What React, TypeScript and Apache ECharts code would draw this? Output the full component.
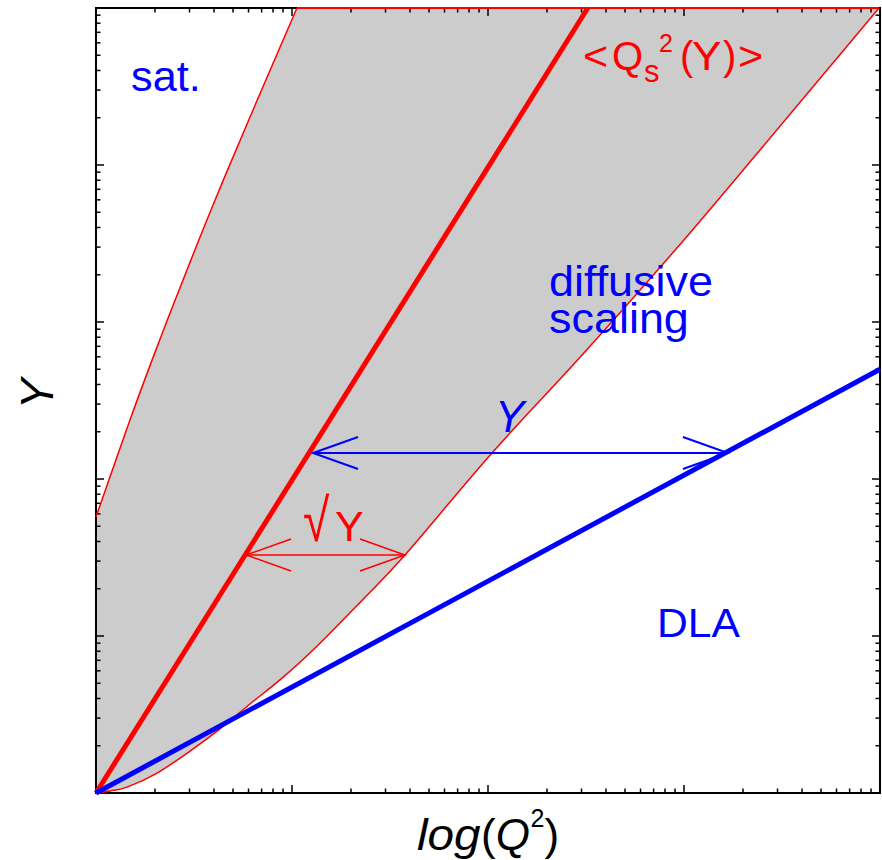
import React, { useEffect, useRef } from "react";
import * as echarts from "echarts";

// Axis extents (both axes logarithmic)
const xMin = 1;
const xMax = 10000;
const yMin = 1;
const yMax = 100000;
const xDecades = [1, 10, 100, 1000, 10000];
const yDecades = [1, 10, 100, 1000, 10000, 100000];
const minorSteps = [2, 3, 4, 5, 6, 7, 8, 9];

// Upper edge of the scaling window (saturation side)
const satEdge: [number, number][] = [
  [1, 57.3],
  [1.509, 248],
  [2.048, 693],
  [2.78, 1854],
  [4.05, 5984],
  [6.107, 20230],
  [10.6, 100000],
];

// Lower edge of the scaling window (diffusive side)
const diffEdge: [number, number][] = [
  [1, 1],
  [1.18, 1.03],
  [1.44, 1.09],
  [2.05, 1.34],
  [3.02, 1.85],
  [4.29, 2.56],
  [6.1, 3.69],
  [8.68, 5.25],
  [12.8, 8.14],
  [22.8, 16.9],
  [37.7, 32.8],
  [104.8, 146.5],
  [302, 616],
  [920, 2960],
  [2443, 12470],
  [5370, 40300],
  [9886, 100000],
];

// Saturation line <Qs^2(Y)> and the DLA line
const qsLine: [number, number][] = [
  [1, 1],
  [323, 100000],
];
const dlaLine: [number, number][] = [
  [1, 1],
  [10000, 500],
];

// Double-headed arrows: [x from, x to, y]
const arrowY: [number, number, number] = [12.8, 1675, 146.5];
const arrowSqrtY: [number, number, number] = [5.83, 37.7, 32.8];

const RED = "#ff0000";
const BLUE = "#0000ff";
const GREY = "#cccccc";
const FONT = "'Liberation Sans', Arial, Helvetica, sans-serif";

type Piece = {
  text: string;
  x: number;
  base: number;
  size: number;
  color: string;
  italic?: boolean;
  sx?: number;
  lh?: number;
  rich?: boolean;
};

// Annotation texts, positioned by their (first) baseline
const pieces: Piece[] = [
  { text: "sat.", x: 131, base: 91, size: 42, color: BLUE, sx: 1.03 },
  { text: "diffusive\nscaling", x: 549, base: 296, size: 42, color: BLUE, sx: 1.07, lh: 37 },
  { text: "DLA", x: 657, base: 637, size: 41, color: BLUE, sx: 1.04 },
  { text: "Y", x: 495, base: 432, size: 44, color: BLUE, italic: true },
  { text: "\u221A", x: 303, base: 541, size: 60, color: RED, sx: 0.8 },
  { text: "Y", x: 335, base: 541, size: 43, color: RED },
  { text: "<", x: 583, base: 70, size: 40, color: RED, sx: 1.08 },
  { text: "Q", x: 612, base: 70, size: 40, color: RED },
  { text: "s", x: 644, base: 82, size: 31, color: RED },
  { text: "2", x: 659, base: 52, size: 25, color: RED },
  { text: "(", x: 680, base: 70, size: 40, color: RED },
  { text: "Y", x: 692, base: 70, size: 40, color: RED, sx: 1.1 },
  { text: ")", x: 723, base: 70, size: 40, color: RED },
  { text: ">", x: 738, base: 70, size: 40, color: RED, sx: 1.08 },
  // x axis title log(Q^2)
  { text: "log", x: 417, base: 850, size: 45, color: "#000", italic: true, sx: 1.06 },
  { text: "{up|(}{it|Q}", x: 481, base: 850, size: 44, color: "#000", rich: true },
  { text: "2", x: 530.5, base: 827, size: 25, color: "#000" },
  { text: ")", x: 544.5, base: 850, size: 44, color: "#000" },
];

// Catmull-Rom smoothing of a pixel polyline into cubic Bezier path commands
function smoothPath(pts: number[][], moveFirst: boolean): string {
  let d = moveFirst ? `M${pts[0][0]},${pts[0][1]}` : `L${pts[0][0]},${pts[0][1]}`;
  for (let i = 0; i < pts.length - 1; i++) {
    const p0 = pts[i - 1] || pts[i];
    const p1 = pts[i];
    const p2 = pts[i + 1];
    const p3 = pts[i + 2] || p2;
    const c1x = p1[0] + (p2[0] - p0[0]) / 6;
    const c1y = p1[1] + (p2[1] - p0[1]) / 6;
    const c2x = p2[0] - (p3[0] - p1[0]) / 6;
    const c2y = p2[1] - (p3[1] - p1[1]) / 6;
    d += `C${c1x},${c1y},${c2x},${c2y},${p2[0]},${p2[1]}`;
  }
  return d;
}

export default function App() {
  const ref = useRef<HTMLDivElement>(null);

  useEffect(() => {
    const chart = echarts.init(ref.current!, null, { renderer: "svg" });

    // Tick list: [xValue, yValue, side(0 = x axis, 1 = y axis), major]
    const ticks: number[][] = [];
    xDecades.forEach((d, i) => {
      ticks.push([d, 1, 0, 1]);
      if (i < xDecades.length - 1) minorSteps.forEach((m) => ticks.push([d * m, 1, 0, 0]));
    });
    yDecades.forEach((d, i) => {
      ticks.push([1, d, 1, 1]);
      if (i < yDecades.length - 1) minorSteps.forEach((m) => ticks.push([1, d * m, 1, 0]));
    });

    const hiddenAxis = {
      axisLine: { show: false },
      axisTick: { show: false },
      axisLabel: { show: false },
      splitLine: { show: false },
    };

    const arrowRender = (color: string, width: number) => (params: any, api: any) => {
      const a = api.coord([api.value(0), api.value(2)]);
      const b = api.coord([api.value(1), api.value(2)]);
      const dx = 45;
      const dy = 16;
      const st = { stroke: color, lineWidth: width, fill: "none" };
      return {
        type: "group",
        children: [
          { type: "line", shape: { x1: a[0], y1: a[1], x2: b[0], y2: b[1] }, style: st },
          { type: "polyline", shape: { points: [[a[0] + dx, a[1] - dy], [a[0], a[1]], [a[0] + dx, a[1] + dy]] }, style: st },
          { type: "polyline", shape: { points: [[b[0] - dx, b[1] - dy], [b[0], b[1]], [b[0] - dx, b[1] + dy]] }, style: st },
        ],
      };
    };

    const texts: any[] = pieces.map((p) => {
      const style: any = {
        text: p.text,
        fill: p.color,
        fontSize: p.size,
        fontFamily: FONT,
        fontStyle: p.italic ? "italic" : "normal",
        align: "left",
        verticalAlign: p.lh ? "top" : "middle",
      };
      if (p.lh) style.lineHeight = p.lh;
      if (p.rich) {
        style.rich = {
          up: { fontSize: p.size, fontFamily: FONT, fontStyle: "normal", fill: p.color },
          it: { fontSize: p.size, fontFamily: FONT, fontStyle: "italic", fill: p.color },
        };
      }
      return {
        type: "text",
        x: p.x,
        // first line's centre sits 0.3465 em above its baseline
        y: p.base - 0.3465 * p.size - (p.lh ? p.lh / 2 : 0),
        scaleX: p.sx || 1,
        z: 100,
        style,
      };
    });
    texts.push({
      type: "text",
      x: 37,
      y: 394,
      rotation: Math.PI / 2,
      z: 100,
      style: {
        text: "Y",
        fill: "#000",
        fontSize: 46,
        fontFamily: FONT,
        fontStyle: "italic",
        align: "center",
        verticalAlign: "middle",
      },
    });

    const toPx = (api: any, arr: [number, number][]) => arr.map((p) => api.coord(p));

    const option: any = {
      animation: false,
      grid: { left: 96, top: 8, width: 784, height: 785, containLabel: false },
      xAxis: { type: "log", logBase: 10, min: xMin, max: xMax, ...hiddenAxis },
      yAxis: { type: "log", logBase: 10, min: yMin, max: yMax, ...hiddenAxis },
      graphic: texts,
      series: [
        {
          // grey scaling window between the two edges
          type: "custom",
          name: "window",
          silent: true,
          z: 1,
          data: [[1, 1]],
          renderItem: (params: any, api: any) => {
            const lower = toPx(api, diffEdge);
            const upper = toPx(api, satEdge).reverse();
            const d = smoothPath(lower, true) + smoothPath(upper, false) + "Z";
            return {
              type: "path",
              shape: { pathData: d },
              style: { fill: GREY, stroke: "none" },
            };
          },
        },
        {
          // plot frame with logarithmic ticks on all four sides
          type: "custom",
          name: "frame",
          silent: true,
          z: 2,
          data: ticks,
          renderItem: (params: any, api: any) => {
            const cs = params.coordSys;
            const st = { stroke: "#000", lineWidth: 1.5 };
            const len = api.value(3) ? 8 : 4.5;
            const children: any[] = [];
            if (params.dataIndex === 0) {
              children.push({
                type: "rect",
                shape: { x: cs.x, y: cs.y, width: cs.width, height: cs.height },
                style: { fill: "none", stroke: "#000", lineWidth: 2 },
              });
            }
            if (api.value(2) === 0) {
              const px = api.coord([api.value(0), 1])[0];
              children.push({ type: "line", shape: { x1: px, y1: cs.y + cs.height, x2: px, y2: cs.y + cs.height - len }, style: st });
              children.push({ type: "line", shape: { x1: px, y1: cs.y, x2: px, y2: cs.y + len }, style: st });
            } else {
              const py = api.coord([1, api.value(1)])[1];
              children.push({ type: "line", shape: { x1: cs.x, y1: py, x2: cs.x + len, y2: py }, style: st });
              children.push({ type: "line", shape: { x1: cs.x + cs.width, y1: py, x2: cs.x + cs.width - len, y2: py }, style: st });
            }
            return { type: "group", children };
          },
        },
        {
          // red outline of the scaling window
          type: "custom",
          name: "window edges",
          silent: true,
          z: 3,
          data: [[1, 1]],
          renderItem: (params: any, api: any) => {
            const lower = toPx(api, diffEdge);
            const upper = toPx(api, satEdge);
            const a = upper[upper.length - 1];
            const b = lower[lower.length - 1];
            return {
              type: "group",
              children: [
                { type: "path", shape: { pathData: smoothPath(lower, true) }, style: { fill: "none", stroke: RED, lineWidth: 1.5 } },
                { type: "path", shape: { pathData: smoothPath(upper, true) }, style: { fill: "none", stroke: RED, lineWidth: 1.5 } },
                { type: "line", shape: { x1: a[0], y1: a[1], x2: b[0], y2: b[1] }, style: { stroke: RED, lineWidth: 2 } },
              ],
            };
          },
        },
        {
          type: "line",
          name: "Qs",
          data: qsLine,
          symbol: "none",
          clip: false,
          z: 4,
          lineStyle: { color: RED, width: 5 },
        },
        {
          type: "line",
          name: "DLA",
          data: dlaLine,
          symbol: "none",
          clip: false,
          z: 4,
          lineStyle: { color: BLUE, width: 5 },
        },
        {
          type: "custom",
          name: "Y arrow",
          silent: true,
          z: 5,
          data: [arrowY],
          renderItem: arrowRender(BLUE, 2),
        },
        {
          type: "custom",
          name: "sqrt Y arrow",
          silent: true,
          z: 5,
          data: [arrowSqrtY],
          renderItem: arrowRender(RED, 1.5),
        },
      ],
    };

    chart.setOption(option);
    return () => chart.dispose();
  }, []);

  return (
    <div
      ref={ref}
      style={{ position: "fixed", left: 0, top: 0, width: 882, height: 860, background: "#fff" }}
    />
  );
}
